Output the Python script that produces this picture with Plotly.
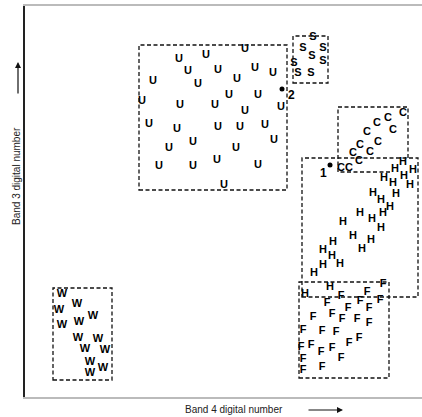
import plotly.graph_objects as go

# Band 4 (x) / Band 3 (y) digital numbers for each class (arbitrary units)
u_x = [220, 181, 154, 163, 193, 230, 248, 128, 173, 212, 204, 233, 117, 155, 190, 220, 256,
       124, 152, 193, 215, 240, 168, 249, 144, 211, 134, 168, 192, 233, 199]
u_y = [348, 342, 338, 326, 327, 329, 324, 316, 313, 318, 302, 302, 296, 292, 292, 286, 290,
       273, 268, 270, 270, 272, 255, 257, 249, 249, 231, 231, 237, 232, 212]

s_x = [288, 278, 298, 287, 269, 298, 286, 273]
s_y = [360, 349, 349, 341, 334, 336, 324, 324]

c_x = [378, 342, 352, 363, 368, 335, 353, 328, 345, 316, 324, 334]
c_y = [284, 265, 274, 279, 267, 252, 255, 244, 245, 229, 229, 236]

h_x = [378, 370, 388, 379, 359, 368, 385, 348, 371, 356, 365, 335, 358, 318, 347, 356,
       328, 346, 308, 337, 298, 307, 298, 315, 289, 305, 280]
h_y = [235, 228, 227, 221, 219, 214, 212, 204, 203, 197, 190, 184, 184, 175, 178, 169,
       161, 157, 155, 148, 147, 141, 132, 133, 124, 110, 103]

f_x = [358, 342, 316, 355, 335, 302, 323, 344, 307, 288, 317, 332, 344, 278, 297, 311, 334,
       324, 276, 286, 307, 296, 278, 316, 278, 297]
f_y = [113, 105, 101, 97, 96, 94, 89, 89, 83, 80, 78, 78, 74, 67, 66, 65, 59,
       54, 50, 52, 49, 45, 38, 39, 27, 30]

w_x = [37, 52, 34, 54, 68, 37, 53, 73, 60, 80, 65, 78, 65]
w_y = [103, 93, 87, 75, 81, 72, 59, 58, 48, 47, 35, 29, 24]

# Class boundary boxes: x0, x1, y0, y1
box_names = ["U", "S", "C", "H", "F", "W"]
box_x0 = [114, 268, 313, 277, 274, 28]
box_x1 = [262, 303, 383, 393, 364, 87]
box_y0 = [207, 314, 225, 100, 19, 17]
box_y1 = [352, 361, 290, 239, 115, 109]
c_bottom_end_x = 365  # C box's lower edge stops inside the H box

# Unknown pixels 1 and 2
pt_labels = ["1", "2"]
pt_x = [305, 257]
pt_y = [232, 308]

X_MAX, Y_MAX = 397, 391

fig = go.Figure()

for name, xs, ys in [("U", u_x, u_y), ("S", s_x, s_y), ("C", c_x, c_y),
                     ("H", h_x, h_y), ("F", f_x, f_y), ("W", w_x, w_y)]:
    fig.add_trace(go.Scatter(x=xs, y=ys, mode="text", text=["<b>" + name + "</b>"] * len(xs),
                             textposition="middle center",
                             textfont=dict(family="Liberation Sans, Arial, sans-serif",
                                           size=11, color="black"),
                             cliponaxis=False, showlegend=False, hoverinfo="skip"))

fig.add_trace(go.Scatter(x=pt_x, y=pt_y, mode="markers",
                         marker=dict(color="black", size=5), showlegend=False,
                         hoverinfo="skip", cliponaxis=False))

for lab, px, py in zip(pt_labels, pt_x, pt_y):
    fig.add_annotation(x=px, y=py, text="<b>" + lab + "</b>", showarrow=False,
                       xanchor="center", yanchor="middle",
                       xshift=(-7 if lab == "1" else 9), yshift=(-8 if lab == "1" else -6),
                       font=dict(family="Liberation Sans, Arial, sans-serif", size=12, color="black"))

box_line = dict(color="#111", width=1.3, dash="4px,2.5px")
h_idx = box_names.index("H")
for name, x0, x1, y0, y1 in zip(box_names, box_x0, box_x1, box_y0, box_y1):
    if name == "C":
        path = (f"M {c_bottom_end_x},{y0} L {x0},{y0} L {x0},{y1} L {x1},{y1} "
                f"L {x1},{box_y1[h_idx]}")
        fig.add_shape(type="path", path=path, xref="x", yref="y", line=box_line)
    else:
        fig.add_shape(type="rect", x0=x0, x1=x1, y0=y0, y1=y1, xref="x", yref="y",
                      line=box_line)

title_font = dict(family="Liberation Sans, Arial, sans-serif", size=10, color="#222")
fig.add_annotation(xref="paper", yref="paper", x=-9 / X_MAX, y=221 / Y_MAX,
                   text="Band 3 digital number", textangle=-90, showarrow=False,
                   font=title_font, xanchor="center", yanchor="middle")
fig.add_annotation(xref="paper", yref="paper", x=209 / X_MAX, y=-12 / Y_MAX,
                   text="Band 4 digital number", showarrow=False,
                   font=title_font, xanchor="center", yanchor="middle")
# axis direction arrows
fig.add_annotation(xref="paper", yref="paper", x=-7 / X_MAX, y=335 / Y_MAX, text="",
                   showarrow=True, ax=0, ay=33, arrowhead=2, arrowsize=1,
                   arrowwidth=1.2, arrowcolor="#111")
fig.add_annotation(xref="paper", yref="paper", x=318 / X_MAX, y=-13 / Y_MAX, text="",
                   showarrow=True, ax=-36, ay=0, arrowhead=2, arrowsize=1,
                   arrowwidth=1.2, arrowcolor="#111")

fig.update_xaxes(range=[0, X_MAX], showgrid=False, zeroline=False, showticklabels=False,
                 ticks="", showline=True, linecolor="#bbb", linewidth=1.5, mirror=True)
fig.update_yaxes(range=[0, Y_MAX], showgrid=False, zeroline=False, showticklabels=False,
                 ticks="", showline=True, linecolor="#222", linewidth=1.5, mirror=False)

fig.update_layout(width=422, height=417, margin=dict(l=25, r=0, t=6, b=20),
                  paper_bgcolor="white", plot_bgcolor="white")

fig.write_html("out.html")
